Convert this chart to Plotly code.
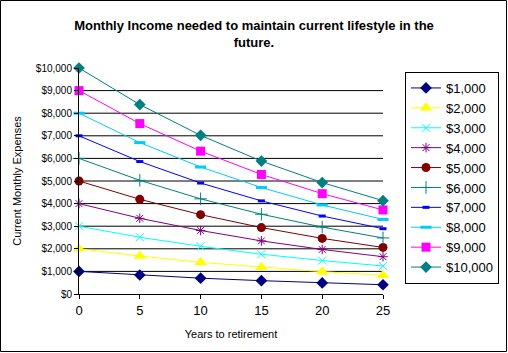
import plotly.graph_objects as go

years = [0, 5, 10, 15, 20, 25]
series_names = ["$1,000", "$2,000", "$3,000", "$4,000", "$5,000",
                "$6,000", "$7,000", "$8,000", "$9,000", "$10,000"]
s1000 = [1000, 840, 700, 590, 490, 410]
s2000 = [2000, 1680, 1400, 1180, 990, 830]
s3000 = [3000, 2510, 2110, 1760, 1480, 1240]
s4000 = [4000, 3350, 2810, 2350, 1970, 1650]
s5000 = [5000, 4190, 3510, 2940, 2460, 2060]
s6000 = [6000, 5030, 4210, 3530, 2960, 2480]
s7000 = [7000, 5860, 4910, 4120, 3450, 2890]
s8000 = [8000, 6700, 5620, 4710, 3940, 3300]
s9000 = [9000, 7540, 6320, 5290, 4440, 3720]
s10000 = [10000, 8380, 7020, 5880, 4930, 4130]
all_series = [s1000, s2000, s3000, s4000, s5000, s6000, s7000, s8000, s9000, s10000]
y_ticks = [0, 1000, 2000, 3000, 4000, 5000, 6000, 7000, 8000, 9000, 10000]
y_tick_labels = ["$0", "$1,000", "$2,000", "$3,000", "$4,000", "$5,000",
                 "$6,000", "$7,000", "$8,000", "$9,000", "$10,000"]
x_ticks = [0, 5, 10, 15, 20, 25]

colors = ["#000080", "#FFFF00", "#00FFFF", "#800080", "#800000",
          "#008080", "#0000FF", "#00CCFF", "#FF00FF", "#008080"]
symbols = ["diamond", "triangle-up", "x-thin", "asterisk", "circle",
           "cross-thin", "line-ew", "line-ew", "square", "diamond"]
sizes = [9, 11, 8, 8, 9, 9, 5, 8, 9, 9]
mlw = [0, 0, 1, 1, 0, 1, 3, 3, 0, 0]

FONT = "Liberation Sans, Arial, sans-serif"
W, H = 508, 353
L, R, T, B = 79, 125, 68, 59

fig = go.Figure()
for name, vals, c, sym, sz, lw in zip(series_names, all_series, colors, symbols, sizes, mlw):
    fig.add_trace(go.Scatter(
        x=years, y=vals, name=name, mode="lines+markers",
        line=dict(color=c, width=1),
        marker=dict(symbol=sym, size=sz, color=c, line=dict(color=c, width=lw)),
        cliponaxis=False,
    ))

# horizontal gridlines (not at top)
for yv in y_ticks[1:-1]:
    fig.add_shape(type="line", xref="x", yref="y", x0=x_ticks[0], x1=x_ticks[-1],
                  y0=yv, y1=yv, line=dict(color="black", width=1), layer="below")

pw, ph = W - L - R, H - T - B
fig.add_shape(type="rect", xref="paper", yref="paper",
              x0=(0.5 - L) / pw, x1=(W - 1.5 - L) / pw,
              y0=-(B - 1.5) / ph, y1=1 + (T - 0.5) / ph,
              line=dict(color="black", width=1))

fig.update_layout(
    width=W, height=H,
    margin=dict(l=L, r=R, t=T, b=B, autoexpand=False),
    paper_bgcolor="white", plot_bgcolor="white",
    font=dict(family=FONT, color="black", size=11),
    title=dict(text="<b>Monthly Income needed to maintain current lifestyle in the<br>future.</b>",
               x=0.5, xref="container", xanchor="center",
               y=1 - 30 / H, yref="container", yanchor="top",
               font=dict(family=FONT, size=13, color="black")),
    showlegend=True,
    legend=dict(x=(405 - L) / pw, xanchor="left", y=1 - (72 - T) / ph, yanchor="top",
                bordercolor="black", borderwidth=1, bgcolor="white",
                font=dict(family=FONT, size=13, color="black"),
                itemwidth=30, tracegroupgap=0),
    xaxis=dict(range=[x_ticks[0], x_ticks[-1]], tickvals=x_ticks, showgrid=False,
               showline=True, linecolor="black", linewidth=1,
               ticks="outside", ticklen=4, tickcolor="black",
               tickfont=dict(size=13), zeroline=False, automargin=False,
               title=dict(text="Years to retirement", font=dict(size=11), standoff=13)),
    yaxis=dict(range=[y_ticks[0], y_ticks[-1]], tickvals=y_ticks, ticktext=y_tick_labels,
               showgrid=False, automargin=False,
               showline=True, linecolor="black", linewidth=1,
               ticks="outside", ticklen=4, tickcolor="black",
               tickfont=dict(size=10), zeroline=False,
               title=dict(text="Current Monthly Expenses", font=dict(size=11), standoff=11)),
)

fig.write_html("out.html")
